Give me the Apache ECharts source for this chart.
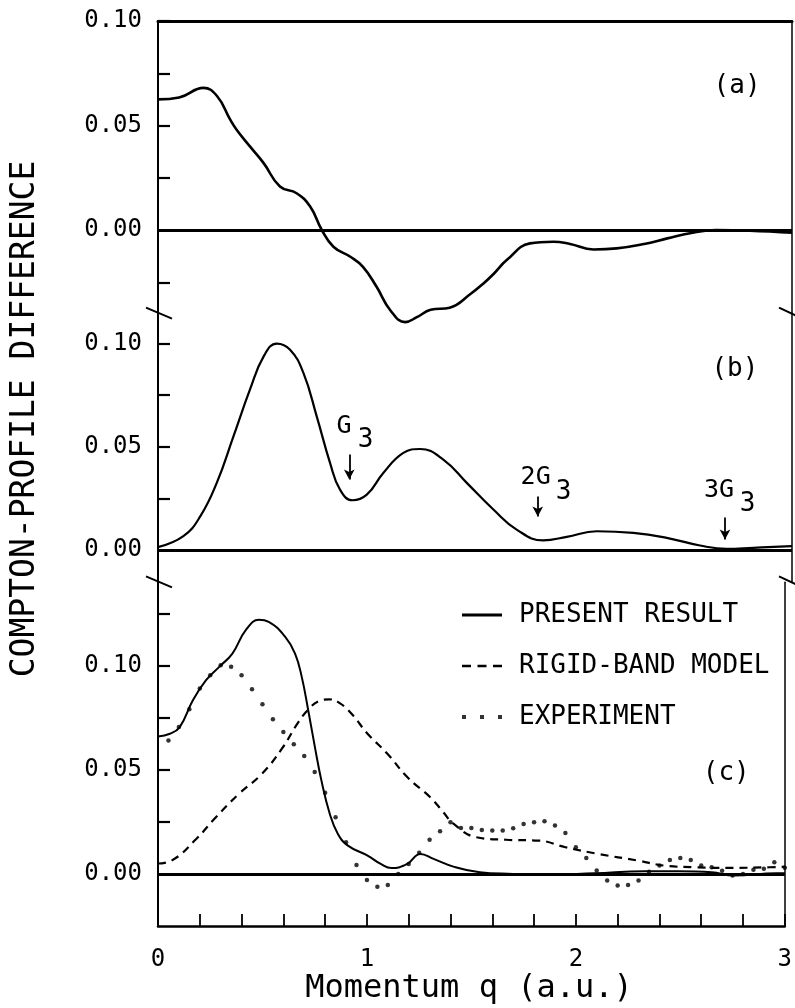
<!DOCTYPE html>
<html><head><meta charset="utf-8">
<script src="https://cdn.jsdelivr.net/npm/echarts@6/dist/echarts.min.js"></script>
<style>html,body{margin:0;padding:0;background:#fff}#c{width:795px;height:1008px}</style>
</head><body><div id="c"></div>
<script>
// ---- data ----
const qA = [0, 0.10, 0.215, 0.28, 0.341, 0.372, 0.435, 0.50, 0.577, 0.656, 0.72, 0.775, 0.83, 0.91, 0.97, 1.035, 1.10, 1.17, 1.225, 1.29, 1.38, 1.48, 1.54, 1.59, 1.65, 1.76, 1.87, 1.95, 2.06, 2.17, 2.30, 2.41, 2.53, 2.64, 2.80, 3.0];
const vA = [0.0625, 0.0634, 0.068, 0.064, 0.0529, 0.048, 0.040, 0.032, 0.0208, 0.0176, 0.0112, 0, -0.008, -0.0128, -0.0176, -0.0273, -0.0385, -0.0441, -0.0417, -0.0382, -0.0372, -0.0305, -0.0256, -0.0208, -0.0144, -0.0064, -0.0056, -0.0067, -0.0093, -0.0088, -0.0067, -0.004, -0.0013, 0, -0.0003, -0.0013];

const qB = [0, 0.12, 0.20, 0.278, 0.357, 0.435, 0.50, 0.562, 0.625, 0.688, 0.751, 0.814, 0.861, 0.92, 0.988, 1.066, 1.161, 1.24, 1.35, 1.461, 1.587, 1.697, 1.823, 1.934, 2.076, 2.249, 2.407, 2.565, 2.691, 2.817, 3.0];
const vB = [0.0015, 0.0068, 0.0164, 0.0326, 0.0551, 0.0777, 0.0938, 0.100, 0.097, 0.0858, 0.0648, 0.0423, 0.0294, 0.0242, 0.0269, 0.0374, 0.0471, 0.049, 0.0439, 0.0326, 0.0197, 0.0100, 0.0048, 0.0065, 0.0092, 0.0084, 0.0060, 0.0023, 0.0007, 0.0012, 0.002];

const qPresent = [0, 0.057, 0.104, 0.167, 0.23, 0.293, 0.356, 0.42, 0.483, 0.53, 0.609, 0.656, 0.688, 0.719, 0.751, 0.782, 0.822, 0.861, 0.909, 1.003, 1.066, 1.118, 1.193, 1.256, 1.319, 1.414, 1.54, 1.70, 1.855, 2.09, 2.33, 2.49, 2.65, 2.755, 2.96, 3.0];
const vPresent = [0.066, 0.0673, 0.0705, 0.0834, 0.093, 0.0994, 0.1058, 0.117, 0.122, 0.121, 0.1138, 0.1058, 0.0946, 0.0786, 0.0609, 0.0449, 0.0289, 0.0192, 0.0136, 0.0088, 0.0048, 0.0028, 0.0048, 0.0096, 0.0072, 0.0035, 0.0008, 0, -0.0005, 0.0003, 0.0013, 0.0013, 0.0008, -0.0008, 0.0003, 0.0003];

const qRigid = [0, 0.065, 0.183, 0.277, 0.388, 0.498, 0.593, 0.672, 0.72, 0.77, 0.82, 0.87, 0.93, 1.003, 1.098, 1.193, 1.303, 1.366, 1.414, 1.524, 1.666, 1.823, 1.95, 2.107, 2.297, 2.423, 2.565, 2.723, 2.928, 3.0];
const vRigid = [0.005, 0.0064, 0.0168, 0.0272, 0.0385, 0.0481, 0.0601, 0.0729, 0.079, 0.083, 0.0838, 0.082, 0.0765, 0.0673, 0.0577, 0.0465, 0.0368, 0.0296, 0.0241, 0.0176, 0.0164, 0.016, 0.0128, 0.0096, 0.0064, 0.004, 0.0032, 0.0029, 0.0032, 0.0035];

const qExp = [0.05, 0.10, 0.15, 0.20, 0.25, 0.30, 0.35, 0.40, 0.45, 0.50, 0.55, 0.60, 0.65, 0.70, 0.75, 0.80, 0.85, 0.90, 0.95, 1.00, 1.05, 1.10, 1.15, 1.20, 1.25, 1.30, 1.35, 1.40, 1.45, 1.50, 1.55, 1.60, 1.65, 1.70, 1.75, 1.80, 1.85, 1.90, 1.95, 2.00, 2.05, 2.10, 2.15, 2.20, 2.25, 2.30, 2.35, 2.40, 2.45, 2.50, 2.55, 2.60, 2.65, 2.70, 2.75, 2.80, 2.85, 2.90, 2.95, 3.00];
const vExp = [0.0641, 0.0705, 0.079, 0.089, 0.0954, 0.1002, 0.0994, 0.0954, 0.0886, 0.0814, 0.0742, 0.0681, 0.0622, 0.0566, 0.0489, 0.039, 0.0272, 0.0152, 0.0043, -0.0029, -0.0061, -0.0053, 0.0, 0.0048, 0.0102, 0.0164, 0.0205, 0.0248, 0.0221, 0.0221, 0.0211, 0.0208, 0.0208, 0.0219, 0.024, 0.0248, 0.0253, 0.0232, 0.0197, 0.0128, 0.0077, 0.0016, -0.0032, -0.0056, -0.0053, -0.0032, 0.001, 0.004, 0.0067, 0.0077, 0.0067, 0.004, 0.0032, 0.0015, -0.0008, 0.0, 0.002, 0.0025, 0.0056, 0.003];

const xTickLabels = [0, 1, 2, 3];
const yTickLabels = [0, 0.05, 0.10];
const panelLabels = ['(a)', '(b)', '(c)'];
const seriesNames = ['PRESENT RESULT', 'RIGID-BAND MODEL', 'EXPERIMENT'];
const axisTitleX = 'Momentum q (a.u.)';
const axisTitleY = 'COMPTON-PROFILE DIFFERENCE';
// annotation anchors (data units, panel b)
const gAnnot = [
  {main: 'G',  mainAt: [0.880, 0.060], sub: '3', subAt: [0.982, 0.053], arrow: [0.905, 0.0463, 0.0342]},
  {main: '2G', mainAt: [1.787, 0.0354], sub: '3', subAt: [1.919, 0.0280], arrow: [1.797, 0.0260, 0.0163]},
  {main: '3G', mainAt: [2.655, 0.0289], sub: '3', subAt: [2.790, 0.0222], arrow: [2.683, 0.0158, 0.0052]}
];
const panelLabelAt = [[2.74, 0.0688], [2.73, 0.0874], [2.72, 0.0481]];

const zip = (a, b) => a.map((x, i) => [x, b[i]]);
const FONT = 'DejaVu Sans Mono';

// ---- layout ----
const L = 158, R = 3;
const gridDefs = [
  {top: 21, height: 292.6},
  {top: 313.6, height: 268.7},
  {top: 582.3, height: 343.7}
];
const yRanges = [[-0.04, 0.10], [-0.0155, 0.1145], [-0.025, 0.14]];
const yTicks = [[-0.025, 0.025, 0.05, 0.075, 0.1], [0.025, 0.05, 0.075, 0.1], [0.025, 0.05, 0.075, 0.1, 0.125]];

const chart = echarts.init(document.getElementById('c'), null, {renderer: 'canvas'});

const grids = gridDefs.map(g => ({left: L, right: R, top: g.top, height: g.height, containLabel: false}));

const xAxes = [0, 1, 2].map(i => ({
  type: 'value', gridIndex: i, min: 0, max: 3, interval: 0.2, position: 'bottom',
  show: i === 2,
  axisLine: {show: i === 2, onZero: false, lineStyle: {color: '#000', width: 2.5}},
  axisTick: {show: i === 2, inside: true, length: 12, lineStyle: {color: '#000', width: 1.8}},
  axisLabel: {show: i === 2, customValues: xTickLabels, formatter: v => String(Math.round(v)), margin: 22,
    fontFamily: FONT, fontSize: 24, color: '#000'},
  splitLine: {show: false}
}));
// top frame line
xAxes.push({type: 'value', gridIndex: 0, min: 0, max: 3, position: 'top',
  axisLine: {show: true, onZero: false, lineStyle: {color: '#000', width: 3}},
  axisTick: {show: false}, axisLabel: {show: false}, splitLine: {show: false}});

const yAxes = [0, 1, 2].map(i => ({
  type: 'value', gridIndex: i, min: yRanges[i][0], max: yRanges[i][1], position: 'left',
  axisLine: {show: true, onZero: false, lineStyle: {color: '#000', width: 2}},
  axisTick: {show: true, inside: true, length: 12, customValues: yTicks[i], lineStyle: {color: '#000', width: 2.2}},
  axisLabel: {show: true, customValues: yTickLabels, formatter: v => v.toFixed(2), margin: 16,
    fontFamily: FONT, fontSize: 24, color: '#000'},
  splitLine: {show: false}
}));
[0, 1, 2].forEach(i => yAxes.push({
  type: 'value', gridIndex: i, min: yRanges[i][0], max: yRanges[i][1], position: 'right',
  axisLine: {show: true, onZero: false, lineStyle: {color: '#000', width: 1.5}},
  axisTick: {show: false}, axisLabel: {show: false}, splitLine: {show: false}
}));

const zeroLine = {yAxis: 0, lineStyle: {color: '#000', width: 3, type: 'solid'}};
const textMP = (txt, at, size) => ({name: txt, coord: at, symbol: 'circle', symbolSize: 0,
  label: {show: true, position: 'inside', formatter: txt, fontFamily: FONT, fontSize: size, color: '#000'}});

const bMarkPoints = [textMP(panelLabels[1], panelLabelAt[1], 26)];
const bMarkLines = [zeroLine];
gAnnot.forEach(g => {
  bMarkPoints.push(textMP(g.main, g.mainAt, 25));
  bMarkPoints.push(textMP(g.sub, g.subAt, 26));
  bMarkLines.push([
    {coord: [g.arrow[0], g.arrow[1]], symbol: 'none'},
    {coord: [g.arrow[0], g.arrow[2]], symbol: 'arrow', symbolSize: [8, 10]}
  ]);
});

const SM = 0.45;
const series = [
  {type: 'line', name: 'panelA', xAxisIndex: 0, yAxisIndex: 0, data: zip(qA, vA), smooth: SM,
    symbol: 'none', clip: false, lineStyle: {color: '#000', width: 2.6}, itemStyle: {color: '#000'},
    markLine: {silent: true, symbol: 'none', label: {show: false}, data: [zeroLine], animation: false},
    markPoint: {silent: true, data: [textMP(panelLabels[0], panelLabelAt[0], 26)], animation: false}},
  {type: 'line', name: 'panelB', xAxisIndex: 1, yAxisIndex: 1, data: zip(qB, vB), smooth: SM,
    symbol: 'none', lineStyle: {color: '#000', width: 2.2}, itemStyle: {color: '#000'},
    markLine: {silent: true, symbol: 'none', label: {show: false}, lineStyle: {color: '#000', width: 1.8, type: 'solid'},
      data: bMarkLines, animation: false},
    markPoint: {silent: true, data: bMarkPoints, animation: false}},
  {type: 'line', name: seriesNames[0], xAxisIndex: 2, yAxisIndex: 2, data: zip(qPresent, vPresent), smooth: SM,
    symbol: 'none', lineStyle: {color: '#000', width: 2}, itemStyle: {color: '#000'},
    markLine: {silent: true, symbol: 'none', label: {show: false}, data: [zeroLine], animation: false},
    markPoint: {silent: true, data: [textMP(panelLabels[2], panelLabelAt[2], 26)], animation: false}},
  {type: 'line', name: seriesNames[1], xAxisIndex: 2, yAxisIndex: 2, data: zip(qRigid, vRigid), smooth: SM,
    symbol: 'none', lineStyle: {color: '#000', width: 2.2, type: [8, 6]}, itemStyle: {color: '#000'}},
  {type: 'scatter', name: seriesNames[2], xAxisIndex: 2, yAxisIndex: 2, data: zip(qExp, vExp),
    symbol: 'circle', symbolSize: 4.5, itemStyle: {color: '#000'}}
];

// break marks & axis titles (decorations)
const breakYs = [gridDefs[1].top, gridDefs[2].top];
const xr = 795 - R;
const graphic = [];
breakYs.forEach(y => {
  graphic.push({type: 'line', silent: true, shape: {x1: L - 12, y1: y - 6, x2: L + 14, y2: y + 5}, style: {stroke: '#000', lineWidth: 2}});
  graphic.push({type: 'line', silent: true, shape: {x1: xr - 13, y1: y - 6, x2: xr + 4, y2: y + 2}, style: {stroke: '#000', lineWidth: 2}});
});
graphic.push({type: 'text', x: 25, y: 419, rotation: Math.PI / 2, silent: true,
  style: {text: axisTitleY, fontFamily: FONT, fontSize: 33, fill: '#000', align: 'center', verticalAlign: 'middle', textAlign: 'center', textVerticalAlign: 'middle'}});
graphic.push({type: 'text', x: 469, y: 989, silent: true,
  style: {text: axisTitleX, fontFamily: FONT, fontSize: 32, fill: '#000', align: 'center', verticalAlign: 'middle', textAlign: 'center', textVerticalAlign: 'middle'}});

chart.setOption({
  animation: false,
  backgroundColor: '#fff',
  grid: grids,
  xAxis: xAxes,
  yAxis: yAxes,
  legend: {
    data: [
      {name: seriesNames[0], icon: 'path://M0 0h40v3h-40z'},
      {name: seriesNames[1], icon: 'path://M0 0h9v2.4h-9z M15.5 0h9v2.4h-9z M31 0h9v2.4h-9z'},
      {name: seriesNames[2], icon: 'path://M0 0h4v4h-4z M18 0h4v4h-4z M36 0h4v4h-4z'}
    ],
    orient: 'vertical', left: 457, top: 597, itemWidth: 40, itemHeight: 14, itemGap: 25,
    selectedMode: false, symbolKeepAspect: true,
    itemStyle: {color: '#000', borderWidth: 0},
    textStyle: {fontFamily: FONT, fontSize: 26, color: '#000', padding: [0, 0, 0, 12]}
  },
  series: series,
  graphic: graphic
});
</script>
</body></html>
